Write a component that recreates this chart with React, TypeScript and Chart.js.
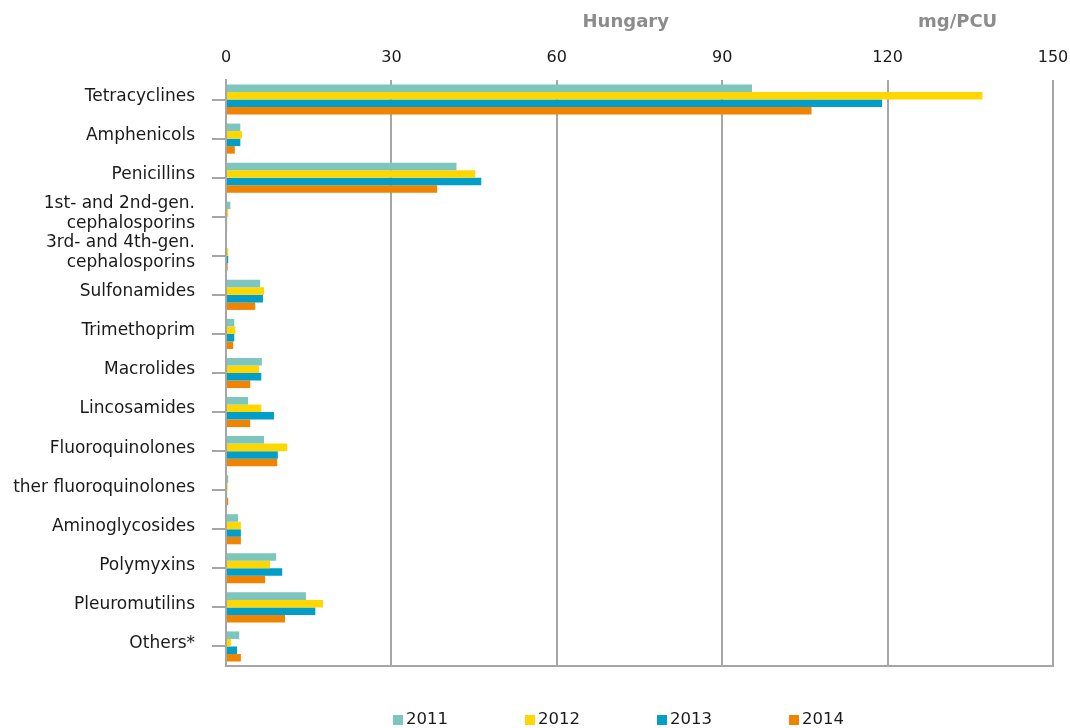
import React, { useEffect, useRef } from 'react';
import { Chart, registerables } from 'chart.js';

Chart.register(...registerables);

const categories: (string | string[])[] = [
  'Tetracyclines',
  'Amphenicols',
  'Penicillins',
  ['1st- and 2nd-gen.', 'cephalosporins'],
  ['3rd- and 4th-gen.', 'cephalosporins'],
  'Sulfonamides',
  'Trimethoprim',
  'Macrolides',
  'Lincosamides',
  'Fluoroquinolones',
  'ther fluoroquinolones',
  'Aminoglycosides',
  'Polymyxins',
  'Pleuromutilins',
  'Others*',
];

const years = ['2011', '2012', '2013', '2014'];
const values2011 = [95.4, 2.6, 41.8, 0.8, 0.1, 6.2, 1.5, 6.5, 4.0, 6.9, 0.4, 2.2, 9.1, 14.5, 2.4];
const values2012 = [137.2, 2.9, 45.2, 0.4, 0.4, 6.9, 1.7, 6.0, 6.4, 11.1, 0.3, 2.7, 8.0, 17.6, 0.9];
const values2013 = [119.0, 2.6, 46.3, 0.2, 0.4, 6.7, 1.5, 6.4, 8.7, 9.4, 0.2, 2.7, 10.2, 16.2, 2.0];
const values2014 = [106.2, 1.6, 38.3, 0.2, 0.3, 5.3, 1.3, 4.4, 4.4, 9.3, 0.4, 2.7, 7.1, 10.7, 2.7];
const seriesColors = ['#7dc6bd', '#ffd700', '#009ec8', '#f08300'];
const xTickValues = [0, 30, 60, 90, 120, 150];
const chartTitle = 'Hungary';
const unitLabel = 'mg/PCU';

export default function App() {
  const canvasRef = useRef<HTMLCanvasElement>(null);

  useEffect(() => {
    const canvas = canvasRef.current;
    if (!canvas) return;
    const gray = '#a6a6a6';
    const seriesValues = [values2011, values2012, values2013, values2014];

    const overlayPlugin = {
      id: 'overlay',
      afterDraw(chart: any) {
        const { ctx, chartArea } = chart;
        const x = chart.scales.x;
        ctx.save();
        ctx.font = 'bold 18px "DejaVu Sans"';
        ctx.fillStyle = '#8c8c8c';
        ctx.textAlign = 'center';
        ctx.textBaseline = 'middle';
        ctx.fillText(chartTitle, x.getPixelForValue(72.5), 22);
        ctx.fillText(unitLabel, x.getPixelForValue(132.7), 22);

        // legend
        ctx.font = '16.5px "DejaVu Sans"';
        ctx.textAlign = 'left';
        let lx = chartArea.left + 167;
        years.forEach((yr, i) => {
          ctx.fillStyle = seriesColors[i];
          ctx.fillRect(lx, 715, 10, 10);
          ctx.fillStyle = '#1a1a1a';
          ctx.fillText(yr, lx + 13, 720);
          lx += 132;
        });
        ctx.restore();
      },
    };

    const chart = new Chart(canvas, {
      type: 'bar',
      data: {
        labels: categories,
        datasets: years.map((yr, i) => ({
          label: yr,
          data: seriesValues[i],
          backgroundColor: seriesColors[i],
          borderWidth: 0,
          categoryPercentage: 0.77,
          barPercentage: 1,
        })),
      },
      options: {
        indexAxis: 'y',
        animation: false,
        responsive: false,
        maintainAspectRatio: false,
        layout: { padding: { top: 40, right: 17, bottom: 62, left: 0 } },
        plugins: {
          legend: { display: false },
          title: { display: false },
          tooltip: { enabled: false },
        },
        scales: {
          x: {
            position: 'top',
            min: 0,
            max: 150,
            afterBuildTicks: (s: any) => {
              s.ticks = xTickValues.map((v) => ({ value: v }));
            },
            afterFit: (s: any) => {
              s.height = 40;
              s.paddingLeft = 0;
              s.paddingRight = 0;
            },
            ticks: {
              padding: 13,
              color: '#1a1a1a',
              font: { family: '"DejaVu Sans"', size: 16 },
            },
            grid: { color: gray, lineWidth: 2, drawTicks: false },
            border: { display: false },
          },
          x2: {
            position: 'bottom',
            min: 0,
            max: 150,
            afterFit: (s: any) => {
              s.height = 0;
              s.paddingLeft = 0;
              s.paddingRight = 0;
            },
            ticks: { display: false },
            grid: { display: true, drawOnChartArea: false, drawTicks: false },
            border: { display: true, color: gray, width: 2 },
          },
          y: {
            afterFit: (s: any) => {
              s.width = 226;
            },
            ticks: {
              autoSkip: false,
              padding: 17,
              labelOffset: -3,
              color: '#1a1a1a',
              font: { family: '"DejaVu Sans"', size: 17 },
            },
            grid: {
              display: true,
              drawOnChartArea: false,
              drawTicks: true,
              tickLength: 14,
              offset: false,
              color: gray,
              lineWidth: 2,
            },
            border: { display: true, color: gray, width: 2 },
          },
        },
      },
      plugins: [overlayPlugin],
    });

    return () => chart.destroy();
  }, []);

  return (
    <div style={{ position: 'fixed', left: 0, top: 0, width: 1070, height: 728, background: '#fff' }}>
      <canvas ref={canvasRef} width={1070} height={728} style={{ display: 'block', width: 1070, height: 728 }} />
    </div>
  );
}
